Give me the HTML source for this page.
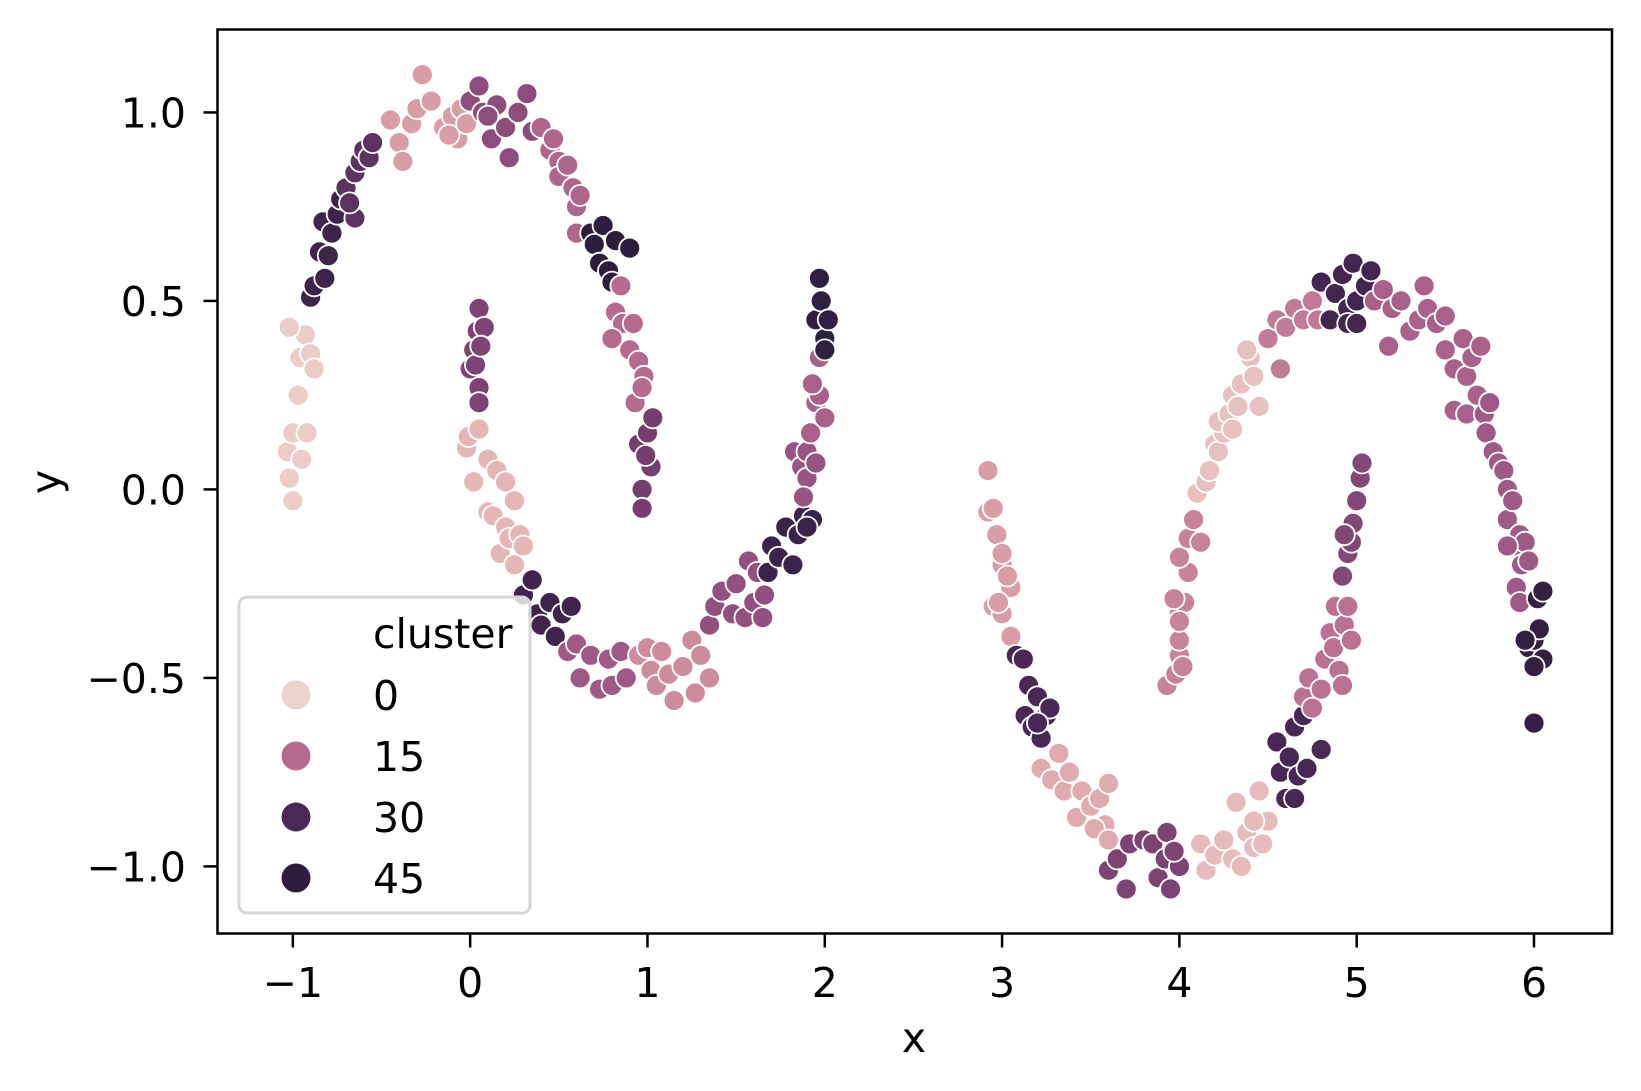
<!DOCTYPE html>
<html><head><meta charset="utf-8"><style>
html,body{margin:0;padding:0;background:#fff;}
svg{display:block;font-family:"DejaVu Sans","Liberation Sans",sans-serif;}
</style></head><body>
<svg id="chart" width="1641" height="1091" viewBox="0 0 1641 1091">
<g id="points"></g>
<rect x="217.5" y="29.5" width="1394.5" height="904" fill="none" stroke="#000" stroke-width="2.5"/>
<g id="axes"></g>
<text x="914" y="1052" font-size="41" text-anchor="middle">x</text>
<text transform="translate(60,482) rotate(-90)" font-size="41" text-anchor="middle">y</text>
<g>
<rect x="239" y="597" width="291" height="316" rx="8" fill="#fff" fill-opacity="0.8" stroke="#d6d6d6" stroke-width="3"/>
<text x="373" y="648" font-size="41">cluster</text>
<g id="legend-entries"></g>
</g>
</svg>
<script>
const xs=[
-1.03,-1.02,-1.0,-1.0,-0.97,-0.96,-0.93,-1.02,-0.9,-0.92,-0.95,-0.88,
-0.9,-0.88,-0.85,-0.82,-0.8,-0.83,-0.78,-0.75,-0.73,
-0.7,-0.65,-0.65,-0.62,-0.6,-0.57,-0.55,-0.68,
-0.45,-0.4,-0.38,-0.33,-0.3,-0.27,-0.22,-0.15,-0.1,-0.07,-0.05,-0.12,-0.02,
0.0,0.05,0.07,0.12,0.15,0.2,0.22,0.27,0.32,0.35,0.1,
0.4,0.45,0.5,0.5,0.55,0.58,0.6,0.6,0.62,0.47,
0.68,0.7,0.75,0.73,0.78,0.82,0.9,0.8,
0.85,0.82,0.86,0.8,0.92,0.9,0.95,0.98,0.93,0.97,
0.95,1.0,1.03,1.02,0.97,0.97,0.99,
0.0,0.02,0.04,0.05,0.08,0.05,0.05,0.03,0.06,
-0.02,-0.01,0.05,0.02,0.1,0.15,0.1,0.13,0.2,0.2,0.25,0.17,0.22,0.28,0.25,0.3,
0.3,0.35,0.38,0.4,0.45,0.48,0.52,0.57,
0.55,0.6,0.62,0.68,0.73,0.78,0.8,0.85,0.88,
0.95,1.0,1.02,1.05,1.08,1.12,1.15,1.2,1.25,1.27,1.3,1.35,
1.35,1.38,1.42,1.48,1.5,1.55,1.57,1.6,1.65,1.66,1.62,
1.68,1.7,1.74,1.78,1.82,1.85,1.88,1.93,1.9,
1.83,1.87,1.9,1.9,1.95,1.88,
1.92,1.95,1.97,1.93,1.97,2.0,
1.95,1.98,2.0,2.02,1.97,2.0,
2.92,2.92,2.95,2.97,3.0,3.0,3.05,3.03,2.95,3.0,3.05,2.98,
3.08,3.12,3.15,3.13,3.17,3.2,3.22,3.25,3.27,3.2,
3.22,3.28,3.32,3.35,3.38,3.42,3.45,3.5,3.55,3.58,3.52,3.6,3.6,
3.6,3.65,3.7,3.72,3.8,3.85,3.88,3.92,3.95,3.93,4.0,3.97,
4.12,4.15,4.2,4.25,4.3,4.35,4.32,4.38,4.42,4.45,4.47,4.5,4.42,
4.55,4.57,4.6,4.62,4.65,4.67,4.7,4.65,4.72,4.8,
4.7,4.73,4.75,4.8,4.82,4.85,4.87,4.9,4.92,4.88,4.93,4.95,4.97,
4.92,4.95,4.97,4.98,5.0,5.02,5.03,4.93,
3.93,3.98,4.0,4.02,4.0,4.0,4.03,3.97,4.05,4.0,4.05,4.08,4.12,4.0,
4.1,4.15,4.17,4.2,4.22,4.25,4.22,4.28,4.3,4.33,4.35,4.4,4.42,4.45,4.38,4.3,
4.5,4.55,4.57,4.6,4.65,4.7,4.75,4.78,
4.8,4.85,4.88,4.92,4.95,4.98,5.0,5.05,5.08,4.95,5.0,
5.1,5.15,5.18,5.2,5.25,5.3,5.35,5.38,5.4,5.45,5.5,5.5,5.55,5.6,5.62,5.65,5.7,5.55,5.62,5.68,
5.72,5.75,5.73,5.77,5.8,5.83,5.85,5.85,5.88,5.9,5.92,5.93,5.9,5.95,5.97,5.92,5.85,
5.97,6.0,6.02,6.05,6.03,6.05,6.0,5.95,6.0];
const ys=[
0.1,0.03,-0.03,0.15,0.25,0.35,0.41,0.43,0.36,0.15,0.08,0.32,
0.51,0.54,0.63,0.56,0.62,0.71,0.68,0.73,0.77,
0.8,0.84,0.72,0.87,0.9,0.88,0.92,0.76,
0.98,0.92,0.87,0.97,1.01,1.1,1.03,0.96,0.99,0.93,1.01,0.94,0.97,
1.03,1.07,1.0,0.93,1.02,0.96,0.88,1.0,1.05,0.95,0.99,
0.96,0.9,0.87,0.83,0.86,0.8,0.75,0.68,0.78,0.93,
0.68,0.65,0.7,0.6,0.58,0.66,0.64,0.55,
0.54,0.47,0.44,0.4,0.44,0.37,0.34,0.3,0.23,0.27,
0.12,0.15,0.19,0.06,0.0,-0.05,0.09,
0.32,0.37,0.42,0.48,0.43,0.27,0.23,0.33,0.38,
0.11,0.14,0.16,0.02,0.08,0.05,-0.06,-0.07,0.02,-0.1,-0.03,-0.17,-0.13,-0.12,-0.2,-0.15,
-0.28,-0.24,-0.33,-0.36,-0.3,-0.39,-0.33,-0.31,
-0.43,-0.41,-0.5,-0.44,-0.53,-0.45,-0.52,-0.43,-0.5,
-0.44,-0.42,-0.48,-0.52,-0.43,-0.49,-0.56,-0.47,-0.4,-0.54,-0.44,-0.5,
-0.36,-0.31,-0.27,-0.33,-0.25,-0.34,-0.19,-0.3,-0.34,-0.28,-0.22,
-0.22,-0.15,-0.18,-0.1,-0.2,-0.12,-0.07,-0.08,-0.1,
0.1,0.06,0.1,0.03,0.07,-0.02,
0.15,0.23,0.25,0.28,0.35,0.19,
0.45,0.5,0.4,0.45,0.56,0.37,
0.05,-0.06,-0.05,-0.12,-0.2,-0.17,-0.26,-0.23,-0.31,-0.33,-0.39,-0.3,
-0.44,-0.45,-0.52,-0.6,-0.63,-0.55,-0.66,-0.6,-0.58,-0.62,
-0.74,-0.77,-0.7,-0.8,-0.75,-0.87,-0.8,-0.84,-0.82,-0.89,-0.9,-0.78,-0.93,
-1.01,-0.98,-1.06,-0.94,-0.93,-0.94,-1.03,-0.98,-1.06,-0.91,-1.0,-0.96,
-0.94,-1.01,-0.97,-0.93,-0.98,-1.0,-0.83,-0.91,-0.95,-0.8,-0.94,-0.88,-0.88,
-0.67,-0.75,-0.82,-0.71,-0.63,-0.76,-0.6,-0.82,-0.74,-0.69,
-0.55,-0.5,-0.58,-0.53,-0.45,-0.38,-0.42,-0.48,-0.52,-0.31,-0.36,-0.31,-0.4,
-0.23,-0.17,-0.14,-0.09,-0.03,0.03,0.07,-0.12,
-0.52,-0.49,-0.44,-0.47,-0.4,-0.33,-0.3,-0.29,-0.22,-0.18,-0.13,-0.08,-0.14,-0.35,
-0.01,0.02,0.05,0.12,0.1,0.15,0.18,0.2,0.25,0.22,0.28,0.35,0.3,0.22,0.37,0.16,
0.4,0.45,0.32,0.43,0.48,0.45,0.5,0.45,
0.55,0.45,0.52,0.57,0.48,0.6,0.5,0.54,0.58,0.44,0.44,
0.5,0.53,0.38,0.48,0.5,0.42,0.45,0.54,0.48,0.44,0.46,0.37,0.32,0.4,0.3,0.35,0.38,0.21,0.2,0.25,
0.2,0.23,0.15,0.1,0.07,0.05,0.0,-0.08,-0.03,-0.15,-0.12,-0.2,-0.26,-0.14,-0.19,-0.3,-0.15,
-0.42,-0.4,-0.29,-0.27,-0.37,-0.45,-0.47,-0.4,-0.62];
const clusterSizes=[12,9,8,13,11,10,8,10,7,9,16,8,9,12,11,9,6,6,6,12,10,13,12,13,9,1,13,8,14,16,8,11,20,17,9];
const clusterIds=[1,37,28,9,22,16,45,15,25,24,5,36,19,11,21,38,20,17,44,9,31,7,24,4,32,30,14,23,12,3,13,34,17,19,42];
const xTicks=[-1,0,1,2,3,4,5,6];
const xTickLabels=["\u22121","0","1","2","3","4","5","6"];
const yTicks=[-1.0,-0.5,0.0,0.5,1.0];
const yTickLabels=["\u22121.0","\u22120.5","0.0","0.5","1.0"];
const legendValues=[0,15,30,45];

const NS="http://www.w3.org/2000/svg";
const X0=217.5,X1=1612,Y0=29.5,Y1=933.5;
const xmin=-1.425,xmax=6.44,ymin=-1.178,ymax=1.22;
function sx(v){return X0+(v-xmin)/(xmax-xmin)*(X1-X0);}
function sy(v){return Y1-(v-ymin)/(ymax-ymin)*(Y1-Y0);}
const stops=[[0,[237,209,203]],[8,[222,165,170]],[15,[181,106,142]],[22,[140,76,124]],[30,[75,41,87]],[45,[45,30,62]],[60,[35,24,50]]];
function color(c){
  for(let i=0;i<stops.length-1;i++){const a=stops[i],b=stops[i+1];
    if(c<=b[0]){const t=(c-a[0])/(b[0]-a[0]);return "rgb("+a[1].map((v,k)=>Math.round(v+(b[1][k]-v)*t)).join(",")+")";}}
  return "rgb(35,24,50)";
}
const cl=[];
clusterSizes.forEach((n,i)=>{for(let k=0;k<n;k++)cl.push(clusterIds[i]);});
const pg=document.getElementById("points");
for(let i=0;i<xs.length;i++){
  const c=document.createElementNS(NS,"circle");
  c.setAttribute("cx",sx(xs[i]).toFixed(1));
  c.setAttribute("cy",sy(ys[i]).toFixed(1));
  c.setAttribute("r","10.5");
  c.setAttribute("fill",color(cl[i]!==undefined?cl[i]:20));
  c.setAttribute("stroke","#fff");
  c.setAttribute("stroke-width","1.8");
  
  
  pg.appendChild(c);
}
const ag=document.getElementById("axes");
xTicks.forEach((t,i)=>{
  const X=sx(t);
  const l=document.createElementNS(NS,"line");
  l.setAttribute("x1",X);l.setAttribute("x2",X);l.setAttribute("y1",Y1);l.setAttribute("y2",Y1+14);
  l.setAttribute("stroke","#000");l.setAttribute("stroke-width","2.5");
  
  
  ag.appendChild(l);
  const tx=document.createElementNS(NS,"text");
  tx.setAttribute("x",X);tx.setAttribute("y",997);tx.setAttribute("font-size","41");tx.setAttribute("text-anchor","middle");
  tx.textContent=xTickLabels[i];
  
  
  ag.appendChild(tx);
});
yTicks.forEach((t,i)=>{
  const Y=sy(t);
  const l=document.createElementNS(NS,"line");
  l.setAttribute("x1",X0-14);l.setAttribute("x2",X0);l.setAttribute("y1",Y);l.setAttribute("y2",Y);
  l.setAttribute("stroke","#000");l.setAttribute("stroke-width","2.5");
  
  
  ag.appendChild(l);
  const tx=document.createElementNS(NS,"text");
  tx.setAttribute("x",186);tx.setAttribute("y",Y+15);tx.setAttribute("font-size","41");tx.setAttribute("text-anchor","end");
  tx.textContent=yTickLabels[i];
  
  
  ag.appendChild(tx);
});
const lg=document.getElementById("legend-entries");
legendValues.forEach((v,i)=>{
  const Y=695+i*61;
  const c=document.createElementNS(NS,"circle");
  c.setAttribute("cx",296);c.setAttribute("cy",Y);c.setAttribute("r","14.5");c.setAttribute("fill",color(v));
  
  
  lg.appendChild(c);
  const tx=document.createElementNS(NS,"text");
  tx.setAttribute("x",373);tx.setAttribute("y",Y+15);tx.setAttribute("font-size","41");
  tx.textContent=String(v);
  
  
  lg.appendChild(tx);
});
</script>
</body></html>
